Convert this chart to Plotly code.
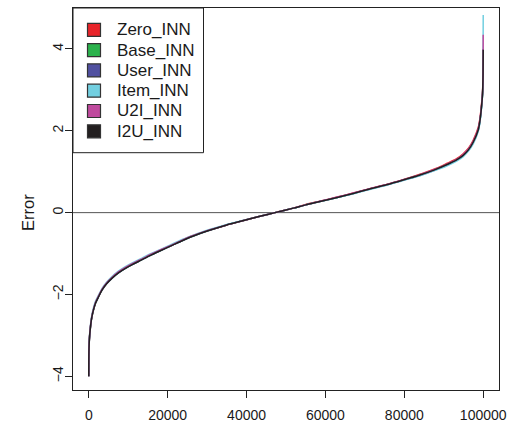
import plotly.graph_objects as go

# Sorted prediction errors (rank index -> error) for each model
rank = [1, 40, 150, 400, 660, 1000, 1670, 2500, 3370, 4500,
        5900, 7500, 9280, 11000, 13500, 15500, 17700, 21100, 23800, 26500,
        30000, 34970, 39000, 43400, 47200, 51850, 55000, 58600, 63000, 67060,
        71000, 75500, 79500, 83960, 87500, 90720, 93260, 94930, 96300, 97460,
        98730, 99160, 99500, 99840, 99960, 100000]

zero_inn = [-4.00, -3.39, -3.09, -2.81, -2.61, -2.44, -2.21, -2.04, -1.88, -1.73,
            -1.59, -1.46, -1.35, -1.26, -1.14, -1.04, -0.94, -0.79, -0.67, -0.56,
            -0.44, -0.30, -0.20, -0.09, 0.00, 0.11, 0.20, 0.28, 0.38, 0.48,
            0.58, 0.69, 0.80, 0.94, 1.06, 1.20, 1.32, 1.44, 1.58, 1.77,
            2.08, 2.30, 2.58, 2.98, 3.45, 4.00]
base_inn = [-4.00, -3.40, -3.10, -2.82, -2.62, -2.45, -2.22, -2.05, -1.89, -1.74,
            -1.60, -1.47, -1.36, -1.27, -1.15, -1.05, -0.95, -0.80, -0.68, -0.57,
            -0.45, -0.30, -0.20, -0.09, 0.00, 0.11, 0.19, 0.27, 0.37, 0.47,
            0.57, 0.68, 0.79, 0.92, 1.04, 1.17, 1.29, 1.40, 1.54, 1.72,
            2.02, 2.24, 2.52, 2.92, 3.40, 4.00]
user_inn = [-4.00, -3.41, -3.11, -2.83, -2.62, -2.45, -2.22, -2.05, -1.89, -1.74,
            -1.60, -1.47, -1.36, -1.27, -1.15, -1.05, -0.95, -0.80, -0.68, -0.57,
            -0.45, -0.30, -0.20, -0.09, 0.00, 0.11, 0.19, 0.27, 0.37, 0.47,
            0.57, 0.68, 0.79, 0.91, 1.03, 1.16, 1.28, 1.39, 1.53, 1.71,
            2.01, 2.23, 2.51, 2.91, 3.40, 4.00]
item_inn = [-4.00, -3.36, -3.05, -2.77, -2.57, -2.40, -2.17, -2.01, -1.85, -1.70,
            -1.56, -1.43, -1.32, -1.23, -1.11, -1.01, -0.92, -0.77, -0.65, -0.55,
            -0.43, -0.29, -0.19, -0.09, 0.00, 0.11, 0.19, 0.27, 0.37, 0.46,
            0.56, 0.67, 0.78, 0.90, 1.02, 1.14, 1.26, 1.37, 1.51, 1.68,
            1.98, 2.20, 2.48, 2.90, 3.70, 4.83]
u2i_inn = [-4.00, -3.38, -3.08, -2.80, -2.60, -2.43, -2.20, -2.03, -1.87, -1.72,
           -1.58, -1.45, -1.34, -1.25, -1.13, -1.03, -0.93, -0.79, -0.67, -0.56,
           -0.44, -0.30, -0.20, -0.09, 0.00, 0.11, 0.19, 0.28, 0.38, 0.48,
           0.58, 0.69, 0.80, 0.93, 1.05, 1.18, 1.30, 1.42, 1.56, 1.74,
           2.05, 2.27, 2.55, 2.95, 3.50, 4.35]
i2u_inn = [-4.00, -3.40, -3.10, -2.82, -2.62, -2.45, -2.22, -2.05, -1.89, -1.74,
           -1.60, -1.47, -1.36, -1.27, -1.15, -1.05, -0.95, -0.80, -0.68, -0.57,
           -0.45, -0.30, -0.20, -0.09, 0.00, 0.11, 0.19, 0.27, 0.37, 0.47,
           0.57, 0.68, 0.79, 0.92, 1.04, 1.17, 1.29, 1.40, 1.54, 1.72,
           2.02, 2.24, 2.52, 2.92, 3.40, 3.98]

names = ["Zero_INN", "Base_INN", "User_INN", "Item_INN", "U2I_INN", "I2U_INN"]
series = [zero_inn, base_inn, user_inn, item_inn, u2i_inn, i2u_inn]
colors = ["#E8242A", "#2BB24C", "#5050A0", "#72CFE0", "#C04A9E", "#231F20"]

x_ticks = [0, 20000, 40000, 60000, 80000, 100000]
y_ticks = [-4, -2, 0, 2, 4]

W, H = 509, 424
L, R, T, B = 73, 10, 8, 34
PW, PH = W - L - R, H - T - B


def px(x):
    return (x - L) / PW


def py(y):
    return (H - B - y) / PH


FONT = "Liberation Sans, Arial, Helvetica, sans-serif"

fig = go.Figure()
for name, ys, col in zip(names, series, colors):
    fig.add_trace(go.Scatter(x=rank, y=ys, mode="lines", name=name,
                             line=dict(color=col, width=1.5, shape="spline",
                                       smoothing=0.8),
                             showlegend=False))

shapes = [
    # zero reference line
    dict(type="line", xref="paper", yref="y", x0=0, x1=1, y0=0, y1=0,
         line=dict(color="#555555", width=1), layer="below"),
    # legend frame
    dict(type="rect", xref="paper", yref="paper",
         x0=px(73), x1=px(203.5), y0=py(152.7), y1=py(8),
         line=dict(color="#222222", width=1), fillcolor="white", layer="above"),
]
annotations = []
row_y = [29.8, 50.1, 70.4, 90.7, 111.0, 131.3]
for name, col, ry in zip(names, colors, row_y):
    shapes.append(dict(type="rect", xref="paper", yref="paper",
                       x0=px(87.5), x1=px(100.5), y0=py(ry + 6.5), y1=py(ry - 6.5),
                       line=dict(color="#333333", width=1.2), fillcolor=col,
                       layer="above"))
    annotations.append(dict(xref="paper", yref="paper", x=px(115), y=py(ry),
                            text=name, showarrow=False, xanchor="left",
                            yanchor="middle",
                            font=dict(family=FONT, size=17, color="#1a1a1a")))

annotations.append(dict(xref="paper", yref="paper", x=px(28), y=py(213),
                        text="Error", showarrow=False, textangle=-90,
                        xanchor="center", yanchor="middle",
                        font=dict(family=FONT, size=16.5, color="#1a1a1a")))

fig.update_layout(
    width=W, height=H,
    margin=dict(l=L, r=R, t=T, b=B, pad=0),
    paper_bgcolor="white", plot_bgcolor="white",
    shapes=shapes, annotations=annotations,
    font=dict(family=FONT, size=14, color="#1a1a1a"),
    xaxis=dict(range=[-4000, 104000], tickvals=x_ticks,
               ticktext=[str(v) for v in x_ticks], automargin=False,
               showgrid=False, zeroline=False, showline=True, mirror=True,
               linecolor="#222222", linewidth=1, ticks="outside", ticklen=7,
               tickcolor="#222222", tickfont=dict(size=14),
               ticklabelstandoff=5),
    yaxis=dict(range=[-4.335, 5.002], tickvals=y_ticks,
               ticktext=["\u22124", "\u22122", "0", "2", "4"], automargin=False,
               showgrid=False, zeroline=False, showline=True, mirror=True,
               linecolor="#222222", linewidth=1, ticks="outside", ticklen=7,
               tickcolor="#222222", tickangle=-90, tickfont=dict(size=14),
               ticklabelstandoff=-4),
)

fig.write_html("out.html")
